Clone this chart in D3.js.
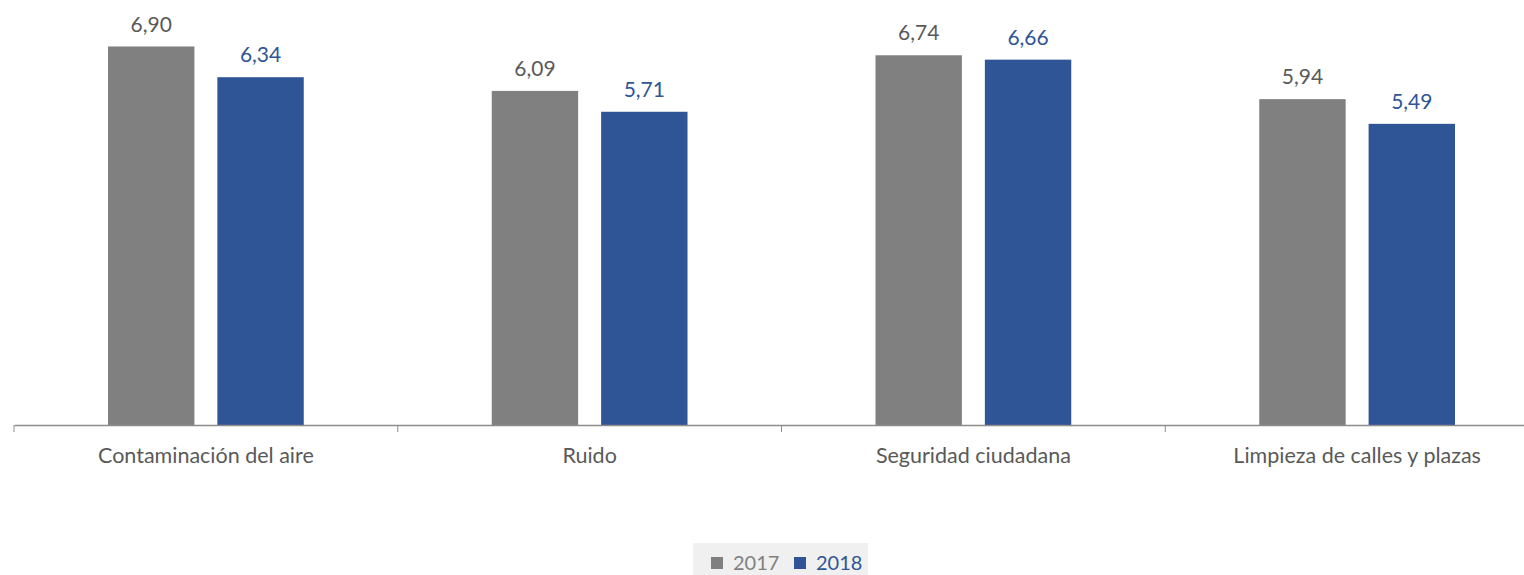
<!DOCTYPE html>
<html>
<head>
<meta charset="utf-8">
<script src="https://cdn.jsdelivr.net/npm/d3@7"></script>
<style>
  body { margin: 0; background: #fff; }
  text { font-family: Lato, "Open Sans", sans-serif; }
</style>
</head>
<body>
<svg id="chart"></svg>
<script>
const categories = ['Contaminación del aire', 'Ruido', 'Seguridad ciudadana', 'Limpieza de calles y plazas'];
const years = ['2017', '2018'];
const values2017 = [6.90, 6.09, 6.74, 5.94];
const values2018 = [6.34, 5.71, 6.66, 5.49];
const colors = ['#808080', '#2F5597'];
const labelColors = ['#595959', '#2F5597'];

const width = 1524, height = 575;
// plot area runs a bit past the right edge, like the original
const margin = { top: 41, right: -25, bottom: 150, left: 14 };
const innerW = width - margin.left - margin.right;
const innerH = height - margin.top - margin.bottom;

const svg = d3.select('#chart')
  .attr('width', width)
  .attr('height', height);

const chart = svg.append('g')
  .attr('transform', `translate(${margin.left},${margin.top})`);

const data = categories.map((c, i) => ({ cat: c, vals: [values2017[i], values2018[i]] }));

const xScale = d3.scaleBand()
  .domain(categories)
  .range([0, innerW]);

const xSub = d3.scaleBand()
  .domain(years)
  .range([94, xScale.bandwidth() - 94])
  .paddingInner(0.21);

const yScale = d3.scaleLinear()
  .domain([0, 7])
  .range([innerH, 0]);

const fmt = v => d3.format('.2f')(v).replace('.', ',');

const groups = chart.selectAll('.group')
  .data(data)
  .join('g')
  .attr('class', 'group')
  .attr('transform', d => `translate(${xScale(d.cat)},0)`);

groups.selectAll('rect')
  .data(d => d.vals.map((v, j) => ({ year: years[j], v, j })))
  .join('rect')
  .attr('x', d => xSub(d.year))
  .attr('width', xSub.bandwidth())
  .attr('y', d => yScale(d.v))
  .attr('height', d => innerH - yScale(d.v))
  .attr('fill', d => colors[d.j]);

groups.selectAll('.val')
  .data(d => d.vals.map((v, j) => ({ year: years[j], v, j })))
  .join('text')
  .attr('class', 'val')
  .attr('x', d => xSub(d.year) + xSub.bandwidth() / 2)
  .attr('y', d => yScale(d.v) - 15)
  .attr('text-anchor', 'middle')
  .attr('font-size', 21)
  .attr('fill', d => labelColors[d.j])
  .text(d => fmt(d.v));

// x axis
const xAxis = d3.axisBottom(xScale).tickSize(0).tickSizeOuter(0);
const xAxisG = chart.append('g')
  .attr('transform', `translate(0,${innerH})`)
  .call(xAxis);
xAxisG.select('.domain').attr('stroke', '#8c8c8c').attr('stroke-width', 1.5);
xAxisG.selectAll('.tick text')
  .attr('font-size', 21.5)
  .attr('fill', '#595959')
  .attr('dy', 0)
  .attr('y', 38)
  .style('font-family', 'Lato, "Open Sans", sans-serif');

// separators between categories
chart.selectAll('.sep')
  .data(d3.range(categories.length + 1))
  .join('line')
  .attr('class', 'sep')
  .attr('x1', i => i * xScale.step())
  .attr('x2', i => i * xScale.step())
  .attr('y1', innerH)
  .attr('y2', innerH + 7)
  .attr('stroke', '#8c8c8c')
  .attr('stroke-width', 1);

// legend
const legend = svg.append('g').attr('transform', 'translate(693,543)');
legend.append('rect')
  .attr('width', 175)
  .attr('height', 32)
  .attr('fill', '#f0f0f0');
const items = [
  { label: years[0], x: 18 },
  { label: years[1], x: 101 }
];
items.forEach((it, i) => {
  legend.append('rect')
    .attr('x', it.x)
    .attr('y', 14)
    .attr('width', 12)
    .attr('height', 12)
    .attr('fill', colors[i]);
  legend.append('text')
    .attr('x', it.x + 22)
    .attr('y', 27)
    .attr('font-size', 20)
    .attr('fill', i === 0 ? '#808080' : '#2F5597')
    .text(it.label);
});
</script>
</body>
</html>
